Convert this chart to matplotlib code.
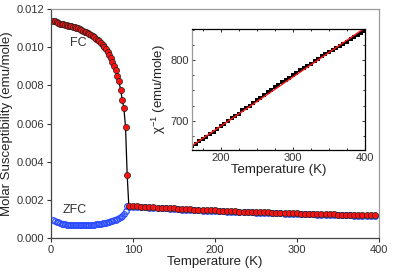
import matplotlib
matplotlib.use("Agg")
import matplotlib.pyplot as plt
from matplotlib.ticker import MultipleLocator

plt.rcParams['font.family'] = ['Liberation Sans', 'DejaVu Sans']
plt.rcParams['mathtext.fontset'] = 'custom'
plt.rcParams['mathtext.rm'] = 'Liberation Sans'
plt.rcParams['mathtext.it'] = 'Liberation Sans'

# FC (field cooled) data
fc_T = [3, 5, 7, 9, 11, 13, 15, 17, 19, 21, 23, 25, 27, 29, 31, 33, 35, 37, 39, 41,
        43, 45, 47, 49, 51, 53, 55, 57, 59, 61, 63, 65, 67, 69, 71, 73, 75, 77, 79,
        81, 83, 85, 87, 89, 91, 93,
        95, 100, 105, 110, 115, 120, 125, 130, 135, 140, 145, 150, 155, 160, 165,
        170, 175, 180, 185, 190, 195, 200, 205, 210, 215, 220, 225, 230, 235, 240,
        245, 250, 255, 260, 265, 270, 275, 280, 285, 290, 295, 300, 305, 310, 315,
        320, 325, 330, 335, 340, 345, 350, 355, 360, 365, 370, 375, 380, 385, 390, 395]
fc_chi = [0.01138, 0.01135, 0.01130, 0.01126, 0.01123, 0.01121, 0.01119, 0.01117,
          0.01115, 0.01113, 0.01111, 0.01109, 0.01107, 0.01104, 0.01101, 0.01098,
          0.01094, 0.01090, 0.01086, 0.01082, 0.01078, 0.01074, 0.01070, 0.01064,
          0.01058, 0.01052, 0.01045, 0.01038, 0.01030, 0.01021, 0.01011, 0.01000,
          0.00988, 0.00974, 0.00958, 0.00941, 0.00922, 0.00902, 0.00878, 0.00850,
          0.00821, 0.00775, 0.00725, 0.00680, 0.00580, 0.00330,
          0.00168, 0.00167, 0.00166, 0.00165, 0.00164, 0.00163, 0.00161, 0.00160,
          0.00159, 0.00158, 0.00156, 0.00155, 0.00153, 0.00152, 0.00151, 0.00150,
          0.00149, 0.00148, 0.00147, 0.00146, 0.00146, 0.00145, 0.00144, 0.00143,
          0.00142, 0.00141, 0.00140, 0.00139, 0.00139, 0.00138, 0.00137, 0.00136,
          0.00135, 0.00135, 0.00134, 0.00133, 0.00132, 0.00132, 0.00131, 0.00130,
          0.00130, 0.00129, 0.00128, 0.00128, 0.00127, 0.00127, 0.00126, 0.00125,
          0.00125, 0.00124, 0.00124, 0.00123, 0.00123, 0.00122, 0.00122, 0.00121,
          0.00121, 0.00120, 0.00120, 0.00119, 0.00119]

# ZFC (zero field cooled) data
zfc_T = [3, 5, 7, 9, 11, 13, 15, 17, 19, 21, 23, 25, 27, 29, 31, 33, 35, 37, 39, 41,
         43, 45, 47, 49, 51, 53, 55, 57, 59, 61, 63, 65, 67, 69, 71, 73, 75, 77, 79,
         81, 83, 85, 87, 89, 91, 93,
         95, 100, 105, 110, 115, 120, 125, 130, 135, 140, 145, 150, 155, 160, 165,
         170, 175, 180, 185, 190, 195, 200, 205, 210, 215, 220, 225, 230, 235, 240,
         245, 250, 255, 260, 265, 270, 275, 280, 285, 290, 295, 300, 305, 310, 315,
         320, 325, 330, 335, 340, 345, 350, 355, 360, 365, 370, 375, 380, 385, 390, 395]
zfc_chi = [0.00094, 0.00090, 0.00086, 0.00082, 0.00079, 0.00076, 0.00074, 0.00072,
           0.00070, 0.00069, 0.00068, 0.00067, 0.00067, 0.00066, 0.00066, 0.00066,
           0.00066, 0.00066, 0.00066, 0.00067, 0.00067, 0.00068, 0.00068, 0.00069,
           0.00070, 0.00071, 0.00072, 0.00073, 0.00075, 0.00076, 0.00078, 0.00079,
           0.00081, 0.00083, 0.00085, 0.00088, 0.00090, 0.00093, 0.00096, 0.00099,
           0.00103, 0.00108, 0.00115, 0.00125, 0.00140, 0.00168,
           0.00165, 0.00164, 0.00163, 0.00162, 0.00161, 0.00160, 0.00158, 0.00157,
           0.00156, 0.00155, 0.00153, 0.00152, 0.00150, 0.00149, 0.00148, 0.00147,
           0.00146, 0.00145, 0.00144, 0.00143, 0.00143, 0.00142, 0.00141, 0.00140,
           0.00139, 0.00138, 0.00137, 0.00136, 0.00136, 0.00135, 0.00134, 0.00133,
           0.00132, 0.00132, 0.00131, 0.00130, 0.00129, 0.00129, 0.00128, 0.00127,
           0.00127, 0.00126, 0.00125, 0.00125, 0.00124, 0.00124, 0.00123, 0.00122,
           0.00122, 0.00121, 0.00121, 0.00120, 0.00120, 0.00119, 0.00119, 0.00118,
           0.00118, 0.00117, 0.00117, 0.00116, 0.00116]

# Inset: inverse susceptibility and linear fit
inv_T = [160, 165, 170, 175, 180, 185, 190, 195, 200, 205, 210, 215, 220, 225, 230,
         235, 240, 245, 250, 255, 260, 265, 270, 275, 280, 285, 290, 295, 300, 305,
         310, 315, 320, 325, 330, 335, 340, 345, 350, 355, 360, 365, 370, 375, 380,
         385, 390, 395, 398]
inv_chi = [658, 662, 666, 670, 674, 678, 682, 687, 691, 695, 700, 704, 708, 712, 717,
           721, 725, 730, 734, 738, 743, 747, 751, 755, 759, 763, 767, 771, 775, 779,
           783, 787, 790, 794, 798, 802, 806, 809, 813, 816, 820, 823, 827, 830, 834,
           837, 841, 844, 848]
fit_T = [160, 398]
fit_chi = [659, 851]

fig = plt.figure(figsize=(3.95, 2.73), dpi=100)
ax = fig.add_axes([0.129, 0.128, 0.830, 0.839])

ax.plot(zfc_T, zfc_chi, linestyle='none', marker='o', markersize=4.0,
        markerfacecolor='none', markeredgecolor='#2b4bff', markeredgewidth=0.9)
ax.plot(fc_T, fc_chi, color='black', linewidth=0.9, marker='o', markersize=4.4,
        markerfacecolor='#ff1010', markeredgecolor='#202020', markeredgewidth=0.5)

ax.set_xlim(0, 400)
ax.set_ylim(0, 0.012)
ax.set_xticks([0, 100, 200, 300, 400])
ax.set_yticks([0.000, 0.002, 0.004, 0.006, 0.008, 0.010, 0.012])
ax.set_yticklabels(['0.000', '0.002', '0.004', '0.006', '0.008', '0.010', '0.012'])
ax.tick_params(direction='out', length=3, width=0.8, labelsize=8, colors='#333333',
               pad=2)
for s in ['left', 'bottom']:
    ax.spines[s].set_color('#444444')
    ax.spines[s].set_linewidth(0.9)
for s in ['top', 'right']:
    ax.spines[s].set_color('#999999')
    ax.spines[s].set_linewidth(0.9)
ax.set_xlabel('Temperature (K)', fontsize=9.5, color='#222222', labelpad=1)
ax.set_ylabel('Molar Susceptibility (emu/mole)', fontsize=9.5, color='#222222',
              labelpad=2)
ax.text(23, 0.0102, 'FC', fontsize=9, color='#333333', va='center', ha='left')
ax.text(14, 0.00148, 'ZFC', fontsize=9, color='#333333', va='center', ha='left')

ins = fig.add_axes([0.486, 0.4505, 0.438, 0.4435])
ins.plot(inv_T, inv_chi, linestyle='none', marker='s', markersize=2.6,
         color='black', markeredgewidth=0)
ins.plot(fit_T, fit_chi, color='#ff1a1a', linewidth=1.0)
ins.set_xlim(160, 400)
ins.set_ylim(652, 851)
ins.set_xticks([200, 300, 400])
ins.set_yticks([700, 800])
ins.xaxis.set_minor_locator(MultipleLocator(25))
ins.yaxis.set_minor_locator(MultipleLocator(25))
ins.tick_params(which='both', direction='in', top=True, right=True, width=0.7,
                labelsize=8, colors='#333333', pad=2)
ins.tick_params(which='major', length=2.5)
ins.tick_params(which='minor', length=1.5)
for s in ['top', 'right', 'bottom']:
    ins.spines[s].set_color('black')
    ins.spines[s].set_linewidth(0.9)
ins.spines['left'].set_color('#999999')
ins.spines['left'].set_linewidth(0.9)
ins.set_xlabel('Temperature (K)', fontsize=9.5, color='#222222', labelpad=1)
ins.set_ylabel(r'$\mathrm{\chi}^{\mathrm{-1}}$ (emu/mole)', fontsize=9.5,
               color='#222222', labelpad=2)

fig.savefig('out.png', dpi=100)
